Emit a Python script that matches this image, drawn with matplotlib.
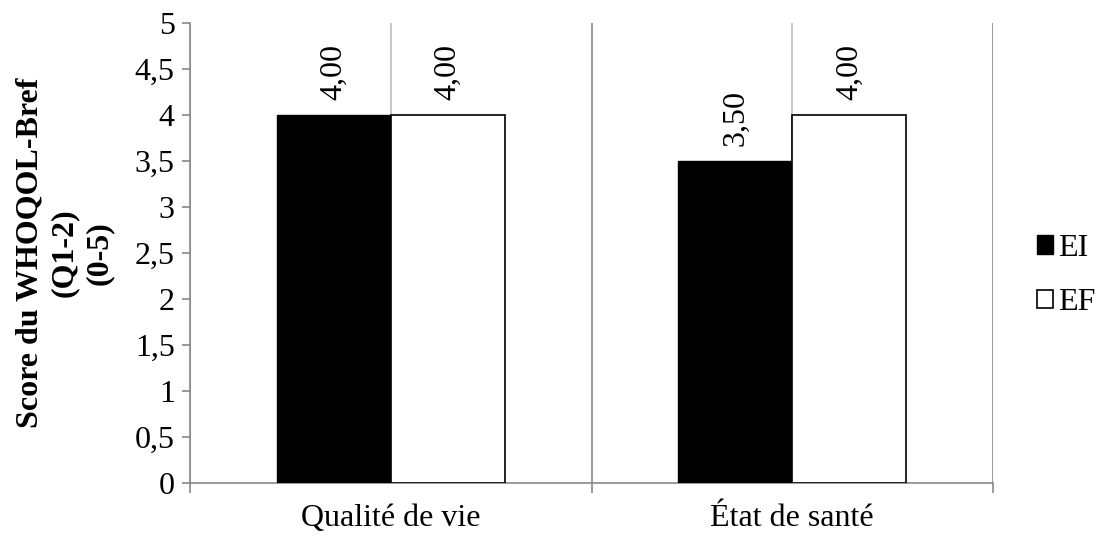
#!/usr/bin/env python3
# -*- coding: utf-8 -*-

import numpy as np
from matplotlib import pyplot as plt
from matplotlib.ticker import FuncFormatter

plt.rcParams['font.family'] = ['Liberation Serif', 'DejaVu Serif']

categories = ['Qualité de vie', 'État de santé']
series_names = ['EI', 'EF']
ei_values = [4.00, 3.50]
ef_values = [4.00, 4.00]

gris = '#898989'
gris_clair = '#bcbcbc'
taille = 23

fig = plt.figure(figsize=(10.99, 5.36), dpi=100)
ax = fig.add_axes([0.1729, 0.0989, 0.7307, 0.8582])

x = np.arange(len(categories))
w = 0.284
b1 = ax.bar(x - w / 2, ei_values, width=w, color='black', edgecolor='black',
            linewidth=1, label=series_names[0], zorder=3)
b2 = ax.bar(x + w / 2, ef_values, width=w, color='white', edgecolor='black',
            linewidth=1.2, label=series_names[1], zorder=3)

# étiquettes des valeurs, verticales
for bars in (b1, b2):
    for r in bars:
        h = r.get_height()
        ax.annotate(f'{h:.2f}'.replace('.', ','),
                    (r.get_x() + r.get_width() / 2, h),
                    xytext=(0, 11), textcoords='offset points',
                    rotation=90, ha='center', va='bottom', fontsize=taille)

# axes
ax.set_xlim(-0.5, len(categories) - 0.5)
ax.set_ylim(0, 5)
ax.set_yticks(np.arange(0, 5.01, 0.5))
ax.yaxis.set_major_formatter(FuncFormatter(lambda v, p: f'{v:g}'.replace('.', ',')))
ax.set_xticks(np.arange(-0.5, len(categories), 1.0))
ax.set_xticklabels([])
ax.set_xticks(x, minor=True)
ax.set_xticklabels(categories, minor=True)
ax.tick_params(axis='x', which='minor', length=0, labelsize=taille, pad=15)
ax.tick_params(axis='x', which='major', length=7, direction='out', color=gris, width=1.2)
ax.tick_params(axis='y', length=6, direction='out', color=gris, width=1.2,
               labelsize=taille, pad=5)

# lignes verticales grises
for gx in np.arange(-0.5, len(categories), 0.5):
    ax.axvline(gx, color=gris_clair if gx % 1 == 0 else gris, linewidth=1.2, zorder=1)

for s in ['top', 'right']:
    ax.spines[s].set_visible(False)
ax.spines['left'].set_color(gris)
ax.spines['bottom'].set_color(gris)
ax.spines['left'].set_linewidth(1.2)
ax.spines['bottom'].set_linewidth(1.2)

ax.set_ylabel('Score du WHOQOL-Bref\n(Q1-2)\n(0-5)', fontsize=taille,
              fontweight='bold', linespacing=1.25)
ax.yaxis.set_label_coords(-0.095, 0.5)

ax.legend(loc='center left', bbox_to_anchor=(1.0548, 0.451), frameon=False,
          fontsize=taille, handlelength=0.5, handleheight=0.5, handletextpad=0.15,
          labelspacing=0.8, borderaxespad=0, borderpad=0)

plt.savefig('out.png', dpi=100)
